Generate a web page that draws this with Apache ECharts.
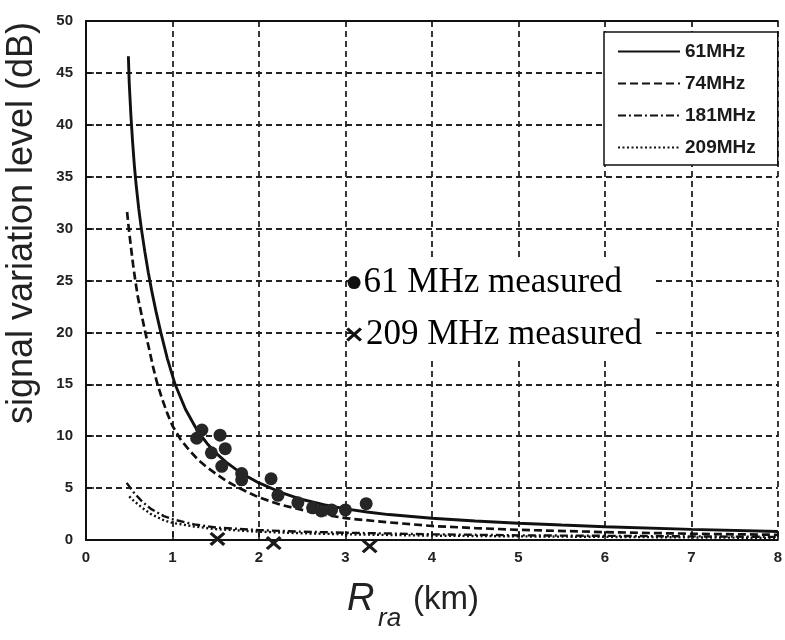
<!DOCTYPE html>
<html>
<head>
<meta charset="utf-8">
<script src="https://cdn.jsdelivr.net/npm/echarts@6/dist/echarts.min.js"></script>
<style>
  html, body { margin: 0; padding: 0; background: #ffffff; }
  #chart { width: 785px; height: 640px; }
</style>
</head>
<body>
<div id="chart"></div>
<script>
// ---- data ----
const xTicks = [0, 1, 2, 3, 4, 5, 6, 7, 8];
const yTicks = [0, 5, 10, 15, 20, 25, 30, 35, 40, 45, 50];

const seriesNames = ['61MHz', '74MHz', '181MHz', '209MHz'];

const r61 = [0.49, 0.50, 0.52, 0.54, 0.56, 0.58, 0.61, 0.64, 0.68, 0.72, 0.76, 0.81, 0.865, 0.94, 1.03, 1.15, 1.29, 1.40, 1.50, 1.62, 1.75, 1.87, 2.0, 2.25, 2.5, 2.75, 3.0, 3.25, 3.5, 4.0, 4.5, 5.0, 5.5, 6.0, 7.0, 8.0];
const v61 = [46.6, 44.0, 40.8, 38.2, 36.0, 34.2, 31.9, 30.0, 27.8, 25.8, 24.0, 22.0, 20.0, 17.5, 15.0, 12.6, 10.5, 9.3, 8.4, 7.5, 6.7, 6.1, 5.5, 4.6, 3.9, 3.4, 3.0, 2.7, 2.45, 2.1, 1.83, 1.62, 1.44, 1.28, 1.02, 0.82];

const r74 = [0.475, 0.485, 0.495, 0.52, 0.545, 0.57, 0.60, 0.64, 0.686, 0.73, 0.775, 0.82, 0.88, 0.94, 1.0, 1.1, 1.2, 1.3, 1.4, 1.5, 1.62, 1.75, 1.87, 2.0, 2.25, 2.5, 2.75, 3.0, 3.5, 4.0, 4.5, 5.0, 6.0, 7.0, 8.0];
const v74 = [31.6, 30.8, 30.0, 28.2, 26.5, 25.0, 23.4, 21.8, 20.0, 18.4, 16.7, 15.2, 13.6, 12.2, 11.0, 9.6, 8.6, 7.7, 7.0, 6.4, 5.7, 5.1, 4.6, 4.1, 3.4, 2.9, 2.45, 2.1, 1.7, 1.35, 1.15, 0.98, 0.76, 0.6, 0.5];

const r181 = [0.47, 0.55, 0.65, 0.75, 0.9, 1.0, 1.25, 1.5, 2.0, 2.5, 3.0, 4.0, 5.0, 6.0, 7.0, 8.0];
const v181 = [5.5, 4.6, 3.7, 3.0, 2.3, 2.0, 1.5, 1.2, 0.95, 0.8, 0.7, 0.55, 0.45, 0.4, 0.35, 0.3];

const r209 = [0.5, 0.55, 0.65, 0.75, 0.9, 1.0, 1.25, 1.5, 2.0, 2.5, 3.0, 4.0, 5.0, 6.0, 7.0, 8.0];
const v209 = [4.2, 3.8, 3.1, 2.5, 1.9, 1.65, 1.3, 1.05, 0.8, 0.65, 0.55, 0.42, 0.35, 0.3, 0.25, 0.2];

// measured points
const meas61R = [1.28, 1.34, 1.45, 1.55, 1.61, 1.57, 1.80, 1.80, 2.14, 2.22, 2.45, 2.62, 2.72, 2.84, 3.00, 3.24];
const meas61V = [9.8, 10.6, 8.4, 10.1, 8.8, 7.1, 6.4, 5.8, 5.9, 4.3, 3.6, 3.1, 2.8, 2.9, 2.9, 3.5];

const meas209R = [1.52, 2.17, 3.28];
const meas209V = [0.1, -0.3, -0.6];

// annotation key
const annotR = [3.1];
const annot61V = [24.8];
const annot209V = [19.8];
const annotTexts = ['61 MHz measured', '209 MHz measured'];

const yTitle = 'signal variation level (dB)';

// ---- build ----
const pairs = (xs, ys) => xs.map((x, i) => [x, ys[i]]);
const crossPath = 'path://M0,1.5 L1.5,0 L5,3.5 L8.5,0 L10,1.5 L6.5,5 L10,8.5 L8.5,10 L5,6.5 L1.5,10 L0,8.5 L3.5,5 Z';

const chart = echarts.init(document.getElementById('chart'), null, { renderer: 'canvas' });

const lineBase = (name, data, type, width) => ({
  name: name,
  type: 'line',
  data: data,
  symbol: 'none',
  smooth: false,
  z: 3,
  itemStyle: { color: 'rgba(0,0,0,0)' },
  lineStyle: { color: '#111', width: width, type: type },
  emphasis: { disabled: true }
});

const option = {
  animation: false,
  backgroundColor: '#ffffff',
  grid: { left: 86, right: 0, top: 21, bottom: 100, containLabel: false },
  legend: {
    data: seriesNames,
    orient: 'vertical',
    left: 604,
    top: 32,
    backgroundColor: '#ffffff',
    borderColor: '#111',
    borderWidth: 1.5,
    borderRadius: 0,
    padding: [10, 22, 8, 13],
    itemWidth: 62,
    itemHeight: 18,
    itemGap: 13,
    itemStyle: { opacity: 0 },
    textStyle: { fontFamily: 'Liberation Sans', fontSize: 19, fontWeight: 'bold', color: '#1a1a1a' },
    selectedMode: false,
    z: 20
  },
  xAxis: [{
    type: 'value',
    min: 0, max: 8, interval: 1,
    axisLine: { show: true, onZero: false, lineStyle: { color: '#111', width: 2 } },
    axisTick: { show: true, inside: true, length: 8, lineStyle: { color: '#111', width: 1.5 } },
    axisLabel: {
      margin: 10,
      fontFamily: 'Liberation Sans', fontSize: 15, fontWeight: 'bold', color: '#222',
      formatter: (v) => (xTicks.indexOf(v) >= 0 ? String(v) : '')
    },
    splitLine: { show: true, lineStyle: { color: '#222', width: 1.8, type: [6, 4] } }
  }, {
    type: 'value', position: 'top',
    min: 0, max: 8, interval: 1,
    axisLine: { show: true, onZero: false, lineStyle: { color: '#111', width: 2 } },
    axisTick: { show: false }, axisLabel: { show: false }, splitLine: { show: false }
  }],
  yAxis: {
    type: 'value',
    min: 0, max: 50, interval: 5,
    axisLine: { show: true, onZero: false, lineStyle: { color: '#111', width: 2 } },
    axisTick: { show: true, inside: true, length: 8, lineStyle: { color: '#111', width: 1.5 } },
    axisLabel: {
      margin: 13,
      fontFamily: 'Liberation Sans', fontSize: 15, fontWeight: 'bold', color: '#222',
      formatter: (v) => (yTicks.indexOf(v) >= 0 ? String(v) : '')
    },
    splitLine: { show: true, lineStyle: { color: '#222', width: 1.8, type: [6, 4] } }
  },
  graphic: [
    {
      type: 'rect', z: 5,
      shape: { x: 352, y: 258, width: 302, height: 100 },
      style: { fill: '#ffffff' }
    },
    {
      type: 'text', z: 5,
      x: 22, y: 223, rotation: Math.PI / 2,
      style: {
        text: yTitle,
        fontFamily: 'Liberation Sans', fontSize: 36, fill: '#222',
        align: 'center', verticalAlign: 'middle',
        textAlign: 'center', textVerticalAlign: 'middle'
      }
    },
    {
      type: 'text', z: 5, x: 347, y: 599,
      style: { text: 'R', fontFamily: 'Liberation Sans', fontStyle: 'italic', fontSize: 38, fill: '#222',
        align: 'left', verticalAlign: 'middle', textAlign: 'left', textVerticalAlign: 'middle' }
    },
    {
      type: 'text', z: 5, x: 378, y: 619,
      style: { text: 'ra', fontFamily: 'Liberation Sans', fontStyle: 'italic', fontSize: 26, fill: '#222',
        align: 'left', verticalAlign: 'middle', textAlign: 'left', textVerticalAlign: 'middle' }
    },
    {
      type: 'text', z: 5, x: 413, y: 600,
      style: { text: '(km)', fontFamily: 'Liberation Sans', fontSize: 33, fill: '#222',
        align: 'left', verticalAlign: 'middle', textAlign: 'left', textVerticalAlign: 'middle' }
    }
  ],
  series: [
    lineBase(seriesNames[0], pairs(r61, v61), 'solid', 2.9),
    lineBase(seriesNames[1], pairs(r74, v74), [8, 4], 2.7),
    lineBase(seriesNames[2], pairs(r181, v181), [8, 3, 2, 3], 2.4),
    lineBase(seriesNames[3], pairs(r209, v209), [2, 2.5], 2.4),
    {
      name: '61 MHz measured points',
      type: 'scatter',
      data: pairs(meas61R, meas61V),
      symbol: 'circle', symbolSize: 13,
      itemStyle: { color: '#262626', opacity: 1 },
      z: 6,
      emphasis: { disabled: true }
    },
    {
      name: '209 MHz measured points',
      type: 'scatter',
      data: pairs(meas209R, meas209V),
      symbol: crossPath, symbolSize: [16, 14],
      itemStyle: { color: '#1a1a1a', opacity: 1 },
      clip: false,
      z: 6,
      emphasis: { disabled: true }
    },
    {
      name: 'key61',
      type: 'scatter',
      data: pairs(annotR, annot61V),
      symbol: 'circle', symbolSize: 13,
      itemStyle: { color: '#111', opacity: 1 },
      z: 10,
      label: {
        show: true, position: 'right', distance: 3,
        formatter: () => annotTexts[0],
        fontFamily: 'Liberation Serif', fontSize: 35, color: '#000'
      },
      emphasis: { disabled: true }
    },
    {
      name: 'key209',
      type: 'scatter',
      data: pairs(annotR, annot209V),
      symbol: crossPath, symbolSize: [16, 14],
      itemStyle: { color: '#111', opacity: 1 },
      z: 10,
      label: {
        show: true, position: 'right', distance: 4,
        formatter: () => annotTexts[1],
        fontFamily: 'Liberation Serif', fontSize: 35, color: '#000'
      },
      emphasis: { disabled: true }
    }
  ]
};

chart.setOption(option);
</script>
</body>
</html>
